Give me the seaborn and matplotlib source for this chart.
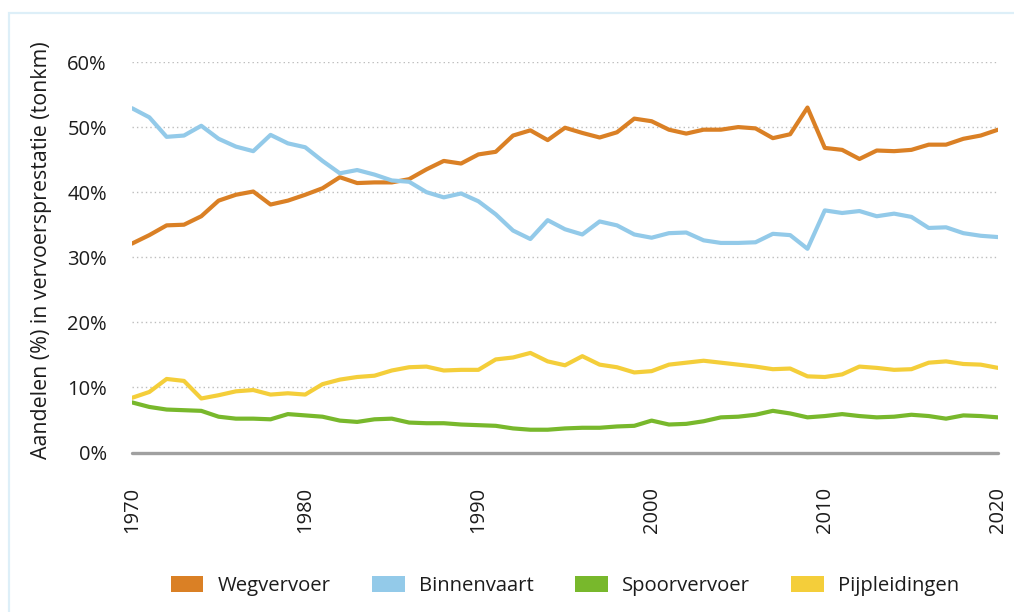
import numpy as np
import pandas as pd
import matplotlib
matplotlib.use("Agg")
import matplotlib.pyplot as plt
from matplotlib.patches import Patch, Rectangle
import seaborn as sns

years = list(range(1970, 2021))

wegvervoer = [32.1, 33.4, 34.9, 35.0, 36.3, 38.7, 39.6, 40.1, 38.1, 38.7,
              39.6, 40.6, 42.3, 41.4, 41.5, 41.5, 42.0, 43.5, 44.8, 44.4,
              45.8, 46.2, 48.7, 49.5, 48.0, 49.9, 49.1, 48.4, 49.2, 51.3,
              50.9, 49.6, 49.0, 49.6, 49.6, 50.0, 49.8, 48.3, 48.9, 53.0,
              46.8, 46.5, 45.1, 46.4, 46.3, 46.5, 47.3, 47.3, 48.2, 48.7,
              49.6]
binnenvaart = [52.9, 51.5, 48.5, 48.7, 50.2, 48.2, 47.0, 46.3, 48.8, 47.5,
               46.9, 44.8, 42.9, 43.4, 42.7, 41.8, 41.6, 40.0, 39.2, 39.8,
               38.6, 36.6, 34.1, 32.8, 35.7, 34.3, 33.5, 35.5, 34.9, 33.5,
               33.0, 33.7, 33.8, 32.6, 32.2, 32.2, 32.3, 33.6, 33.4, 31.3,
               37.2, 36.8, 37.1, 36.3, 36.7, 36.2, 34.5, 34.6, 33.7, 33.3,
               33.1]
spoorvervoer = [7.7, 7.0, 6.6, 6.5, 6.4, 5.5, 5.2, 5.2, 5.1, 5.9,
                5.7, 5.5, 4.9, 4.7, 5.1, 5.2, 4.6, 4.5, 4.5, 4.3,
                4.2, 4.1, 3.7, 3.5, 3.5, 3.7, 3.8, 3.8, 4.0, 4.1,
                4.9, 4.3, 4.4, 4.8, 5.4, 5.5, 5.8, 6.4, 6.0, 5.4,
                5.6, 5.9, 5.6, 5.4, 5.5, 5.8, 5.6, 5.2, 5.7, 5.6,
                5.4]
pijpleidingen = [8.4, 9.3, 11.3, 11.0, 8.3, 8.8, 9.4, 9.6, 8.9, 9.1,
                 8.9, 10.5, 11.2, 11.6, 11.8, 12.6, 13.1, 13.2, 12.6, 12.7,
                 12.7, 14.3, 14.6, 15.3, 14.0, 13.4, 14.8, 13.5, 13.1, 12.3,
                 12.5, 13.5, 13.8, 14.1, 13.8, 13.5, 13.2, 12.8, 12.9, 11.7,
                 11.6, 12.0, 13.2, 13.0, 12.7, 12.8, 13.8, 14.0, 13.6, 13.5,
                 13.0]

series_names = ["Wegvervoer", "Binnenvaart", "Spoorvervoer", "Pijpleidingen"]
colors = ["#DA8025", "#93CAE9", "#78B82C", "#F4CE3A"]
y_ticks = [0, 10, 20, 30, 40, 50, 60]
x_ticks = [1970, 1980, 1990, 2000, 2010, 2020]

df = pd.DataFrame({
    "jaar": years * 4,
    "aandeel": wegvervoer + binnenvaart + spoorvervoer + pijpleidingen,
    "modaliteit": sum([[n] * len(years) for n in series_names], []),
})

sns.set_theme(style="white")
plt.rcParams["font.family"] = ["Open Sans", "DejaVu Sans"]
text_color = "#1c1c1c"

fig = plt.figure(figsize=(10.14, 6.12), dpi=100)
ax = fig.add_axes([132 / 1014, 1 - 452.5 / 612, (998 - 132) / 1014, (452.5 - 62) / 612])

# frame around figure
fig.patches.append(Rectangle((8.5 / 1014, -0.1), 1.2, 1 - 13 / 612 + 0.1,
                             transform=fig.transFigure, fill=False,
                             edgecolor="#DDEFF8", linewidth=1.6, zorder=0))

sns.lineplot(data=df, x="jaar", y="aandeel", hue="modaliteit",
             hue_order=series_names, palette=colors, linewidth=3.0,
             ax=ax, legend=False)

ax.set_xlim(1970, 2020)
ax.set_ylim(0, 60)
ax.set_yticks(y_ticks)
ax.set_yticklabels([f"{v}%" for v in y_ticks])
ax.set_xticks(x_ticks)
ax.set_xticklabels([str(v) for v in x_ticks], rotation=90)

for v in y_ticks[1:]:
    ax.axhline(v, color="#BDBDBD", linewidth=1.0, linestyle=(0, (1, 2.2)), zorder=0)
ax.axhline(0, color="#A0A0A0", linewidth=2.4, zorder=1, clip_on=False)

for s in ax.spines.values():
    s.set_visible(False)
ax.grid(False)
ax.tick_params(axis="y", length=0, pad=18, labelsize=14.5, labelcolor=text_color)
ax.tick_params(axis="x", length=0, pad=25, labelsize=14.5, labelcolor=text_color)
ax.set_xlabel("")
ax.set_ylabel("Aandelen (%) in vervoersprestatie (tonkm)", fontsize=15.4,
              color=text_color, labelpad=3)
ax.yaxis.set_label_coords(-0.092, 0.518)

handles = [Patch(facecolor=c, edgecolor="none", label=n) for n, c in zip(series_names, colors)]
leg = fig.legend(handles=handles, loc="center", ncol=4,
                 bbox_to_anchor=(565 / 1014, 1 - 586 / 612), frameon=False,
                 fontsize=14.6, handlelength=1.6, handleheight=0.85,
                 handletextpad=0.7, columnspacing=2.05)
for t in leg.get_texts():
    t.set_color(text_color)

fig.savefig("out.png", dpi=100)
